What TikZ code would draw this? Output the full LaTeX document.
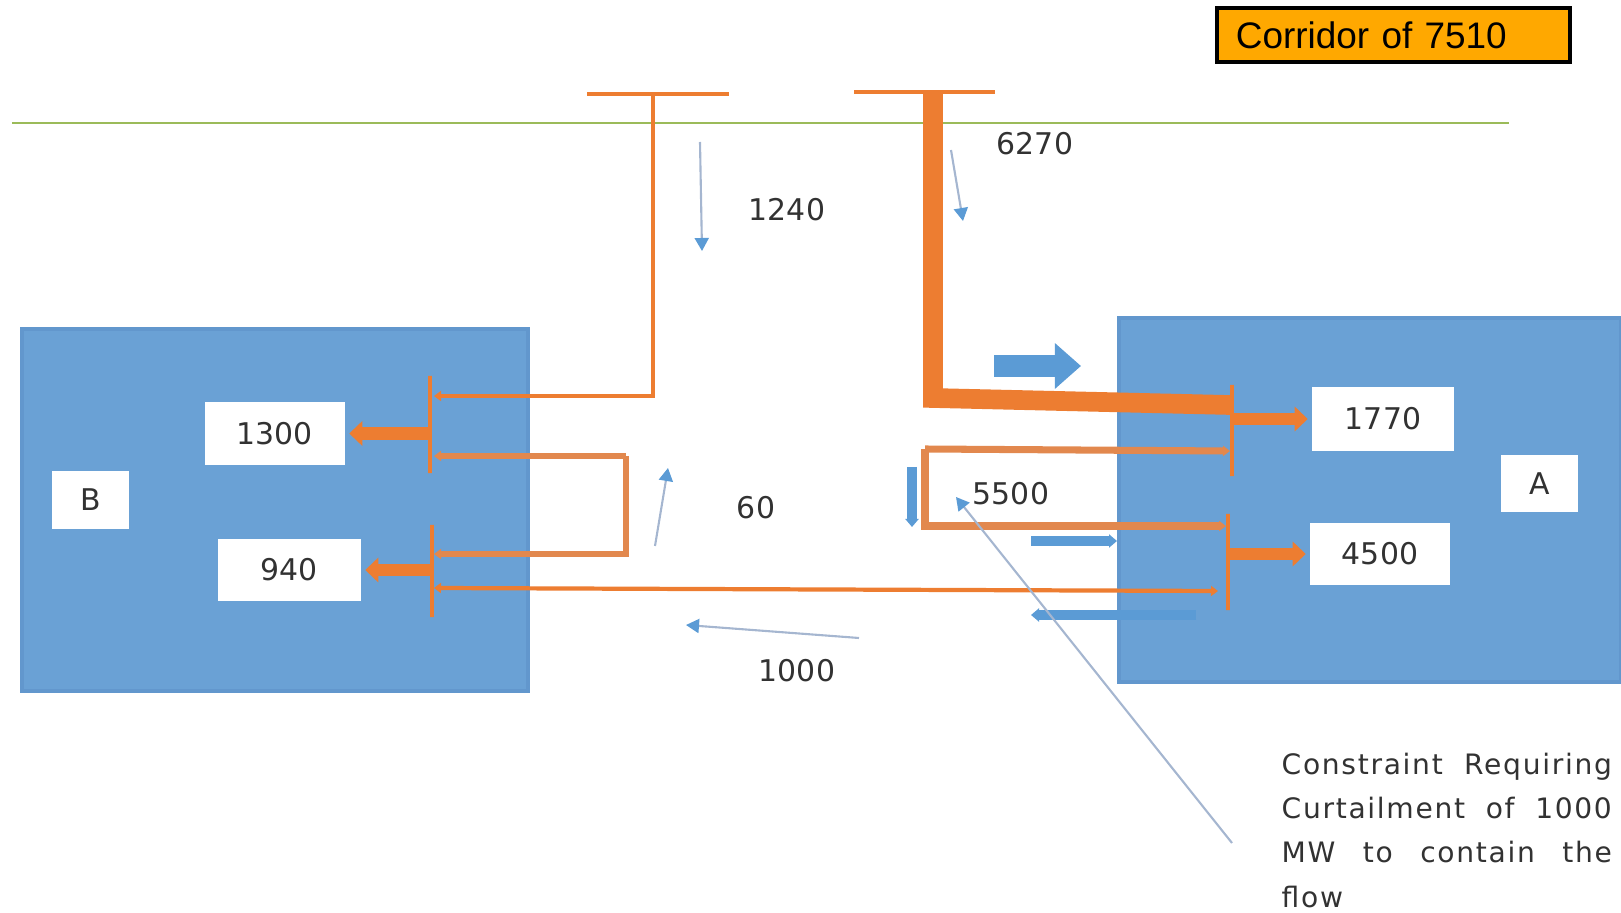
\documentclass[tikz,border=0pt]{standalone}
\usepackage{fontspec}
\setmainfont{DejaVu Sans}
\newfontfamily\arialfont{Liberation Sans}
\newfontfamily\notefont[LetterSpace=6]{DejaVu Sans}
\usetikzlibrary{arrows.meta, positioning, calc}

\definecolor{feedorange}{RGB}{237,125,49}
\definecolor{looporange}{RGB}{226,136,78}
\definecolor{regionblue}{RGB}{106,161,213}
\definecolor{regionedge}{RGB}{98,151,205}
\definecolor{flowblue}{RGB}{91,155,213}
\definecolor{pointerblue}{RGB}{165,182,208}
\definecolor{busgreen}{RGB}{155,187,89}
\definecolor{corridorfill}{RGB}{255,168,0}
\definecolor{valtext}{RGB}{50,50,50}

\tikzset{
  region/.style={fill=regionblue, draw=regionedge, line width=1pt, inner sep=0pt, outer sep=0pt},
  valbox/.style={fill=white, inner sep=0pt, text=valtext, font=\fontsize{8.5}{10}\selectfont},
  val/.style={inner sep=0pt, text=valtext, font=\fontsize{8.5}{10}\selectfont},
  corridor/.style={draw=black, line width=1.3pt, fill=corridorfill, minimum height=0.54cm,
    text width=3.15cm, inner xsep=0.19cm, align=left, font=\arialfont\fontsize{10.5}{12}\selectfont},
  brk/.style={draw=feedorange, line width=0.9pt, minimum width=0pt, inner sep=0pt, outer sep=0pt},
  tbar/.style={draw=feedorange, line width=0.9pt},
  busline/.style={draw=busgreen, line width=0.7pt},
  endtip/.style={-{Triangle[length=0.07cm, width=0.1cm]}},
  feeder/.style={draw=feedorange, line width=1.2pt},
  heavyfeeder/.style={draw=feedorange, line width=5.6pt},
  loopline/.style={draw=looporange, line width=1.6pt},
  outarrow/.style={draw=feedorange, line width=3.5pt, shorten >=1pt,
    -{Triangle[length=0.13cm, width=0.24cm]}},
  blockarrow/.style={draw=flowblue, line width=6.3pt, -{Triangle[length=0.26cm, width=0.44cm]}},
  flowbar/.style={draw=flowblue, line width=2.6pt, -{Triangle[length=0.08cm, width=0.13cm]}},
  pointer/.style={draw=pointerblue, line width=0.6pt,
    -{Triangle[length=0.13cm, width=0.14cm, color=flowblue]}},
  note/.style={inner sep=0pt, text width=3.3cm, align=justify, text=valtext,
    font=\notefont\fontsize{8}{12.6}\selectfont}
}

\begin{document}
\begin{tikzpicture}[x=0.01cm, y=-0.01cm]
\useasboundingbox (0,0) rectangle (1621,913);

% regions
\node[region, minimum width=5.06cm, minimum height=3.62cm] (regB) at (275,510) {};
\node[region, minimum width=5.02cm, minimum height=3.64cm] (regA) at (1370,500) {};

% corridor title
\node[corridor] (corr) at (1393.5,35) {Corridor of 7510};

% grid line and the two tees
\coordinate (gridW) at (12,123);
\coordinate (gridE) at (1509,123);
\draw[busline] (gridW) -- (gridE);
\coordinate (teeL1) at (587,94);
\coordinate (teeL2) at (729,94);
\coordinate (tapL) at (653,94);
\coordinate (teeR1) at (854,92);
\coordinate (teeR2) at (995,92);
\coordinate (tapR) at (933,92);
\draw[tbar] (teeL1) -- (teeL2);
\draw[tbar] (teeR1) -- (teeR2);

% brackets at the region inlets
\node[brk, minimum height=0.97cm] (brkB1) at (430,424.5) {};
\node[brk, minimum height=0.92cm] (brkB2) at (432,571) {};
\node[brk, minimum height=0.91cm] (brkA1) at (1232,430.5) {};
\node[brk, minimum height=0.96cm] (brkA2) at (1228,562) {};

% value boxes
\node[valbox, minimum width=1.40cm, minimum height=0.63cm] (n1300) at (275,433.5) {1300};
\node[valbox, minimum width=0.77cm, minimum height=0.58cm] (nameB) at (90.5,500) {B};
\node[valbox, minimum width=1.43cm, minimum height=0.62cm] (n940) at (289.5,570) {940};
\node[valbox, minimum width=1.42cm, minimum height=0.64cm] (n1770) at (1383,419) {1770};
\node[valbox, minimum width=0.77cm, minimum height=0.57cm] (nameA) at (1539.5,483.5) {A};
\node[valbox, minimum width=1.40cm, minimum height=0.62cm] (n4500) at (1380,554) {4500};

% feeders
\coordinate (inB1) at (434,396);
\coordinate (bendR) at (933,398);
\coordinate (inA1) at (1230,405);
\draw[feeder, endtip] (tapL) |- (inB1);
\draw[heavyfeeder] (tapR) -- (bendR) -- (inA1);

% loops
\coordinate (inB2) at (434,456);
\coordinate (loopB1) at (626,456);
\coordinate (loopB2) at (626,554);
\coordinate (inB3) at (434,554);
\draw[loopline, endtip] (loopB1) -- (inB2);
\draw[loopline, endtip] (loopB1) -- (loopB2) -- (inB3);
\coordinate (inA2) at (1230,451);
\coordinate (loopA1) at (925,449);
\coordinate (loopA2) at (925,526);
\coordinate (inA3) at (1226,526);
\draw[loopline, line width=2pt, endtip] (loopA1) -- (inA2);
\draw[loopline, line width=2pt, endtip] (loopA1) -- (loopA2) -- (inA3);

% long tie line
\coordinate (inB4) at (434,588);
\coordinate (inA4) at (1218,591);
\draw[feeder, {Triangle[length=0.07cm, width=0.1cm]}-{Triangle[length=0.07cm, width=0.1cm]}] (inB4) -- (inA4);

% injections into the boxes
\draw[outarrow] (brkB1.west |- n1300.east) -- (n1300.east);
\draw[outarrow] (brkB2.west |- n940.east) -- (n940.east);
\draw[outarrow] (brkA1.east |- n1770.west) -- (n1770.west);
\draw[outarrow] (brkA2.east |- n4500.west) -- (n4500.west);

% blue flow marks
\coordinate (pushS) at (994,366);
\coordinate (pushE) at (1081,366);
\draw[blockarrow] (pushS) -- (pushE);
\coordinate (dropS) at (912,467);
\coordinate (dropE) at (912,527);
\draw[flowbar, line width=3pt] (dropS) -- (dropE);
\coordinate (intoS) at (1031,541);
\coordinate (intoE) at (1117,541);
\draw[flowbar] (intoS) -- (intoE);
\coordinate (backS) at (1196,615);
\coordinate (backE) at (1031,615);
\draw[flowbar] (backS) -- (backE);

% pointers with values
\coordinate (p1240S) at (700,142);
\coordinate (p1240E) at (702,251);
\draw[pointer] (p1240S) -- (p1240E);
\coordinate (p6270S) at (951,150);
\coordinate (p6270E) at (963,221);
\draw[pointer] (p6270S) -- (p6270E);
\coordinate (p60S) at (655,546);
\coordinate (p60E) at (668,468);
\draw[pointer] (p60S) -- (p60E);
\coordinate (p1000S) at (859,638);
\coordinate (p1000E) at (686,625);
\draw[pointer] (p1000S) -- (p1000E);

\node[val] (v1240) at (787,210) {1240};
\node[val] (v6270) at (1035,144) {6270};
\node[val] (v60) at (756,508) {60};
\node[val] (v5500) at (1011,494) {5500};
\node[val] (v1000) at (797,671) {1000};

% constraint note
\node[note, anchor=north west] (constraint) at (1281,752)
  {Constraint Requiring\linebreak Curtailment of 1000\linebreak MW to contain the\linebreak flow};
\coordinate (noteTail) at (1232,843);
\coordinate (noteHead) at (956,497);
\draw[pointer] (noteTail) -- (noteHead);
\end{tikzpicture}
\end{document}
